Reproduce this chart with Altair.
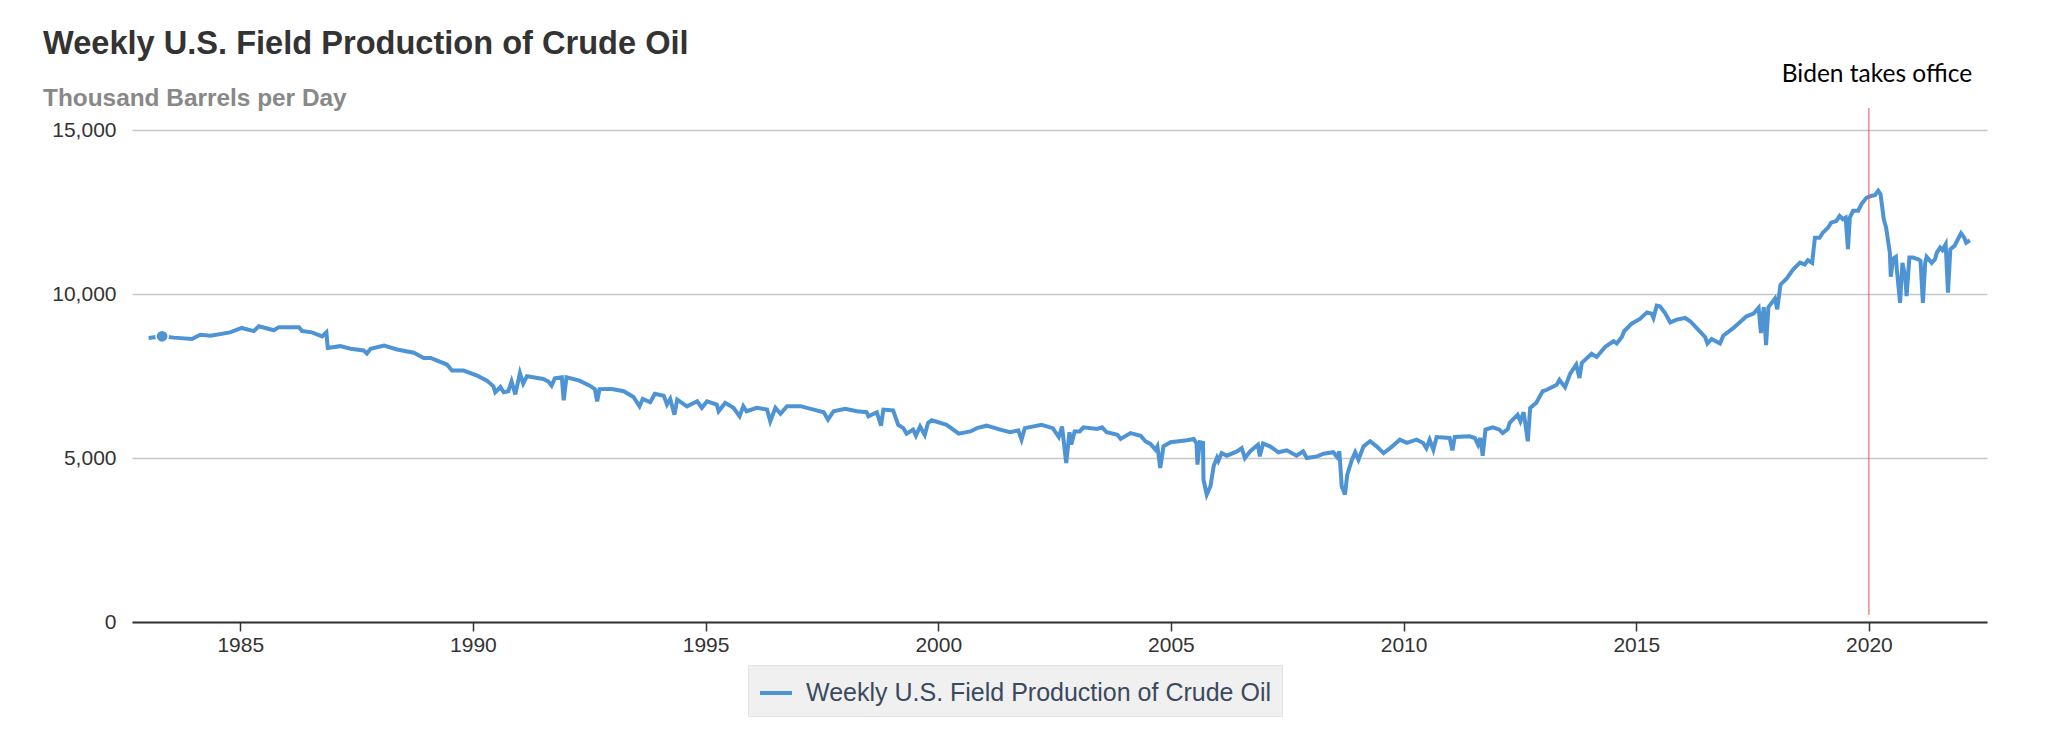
import altair as alt
import pandas as pd

# ---- data (decimal year, thousand barrels/day) ----
years = [
    1983.03, 1983.32, 1983.57, 1983.96, 1984.14, 1984.36, 1984.78, 1985.03, 1985.29, 1985.40,
    1985.72, 1985.83, 1986.26, 1986.33, 1986.54, 1986.76, 1986.85, 1986.88, 1987.15, 1987.37,
    1987.65, 1987.72, 1987.80, 1988.09, 1988.37, 1988.73, 1988.94, 1989.09, 1989.44, 1989.55,
    1989.80, 1990.09, 1990.30, 1990.44, 1990.48, 1990.59, 1990.66, 1990.76, 1990.83, 1990.91,
    1991.01, 1991.08, 1991.16, 1991.51, 1991.62, 1991.69, 1991.76, 1991.91, 1991.95, 1992.01,
    1992.29, 1992.51, 1992.62, 1992.67, 1992.72,
    1992.99, 1993.24, 1993.45, 1993.58, 1993.65, 1993.81, 1993.91, 1994.10, 1994.17, 1994.24,
    1994.33, 1994.39, 1994.60, 1994.82, 1994.92, 1995.03, 1995.24, 1995.28, 1995.42, 1995.60,
    1995.73, 1995.81, 1995.88, 1996.10, 1996.32, 1996.39, 1996.50, 1996.61, 1996.75, 1997.04,
    1997.32, 1997.54, 1997.63, 1997.75, 1998.00, 1998.25, 1998.46, 1998.50, 1998.68, 1998.77,
    1998.82, 1999.03, 1999.14, 1999.25, 1999.32, 1999.46, 1999.52, 1999.61, 1999.71, 1999.78,
    1999.86, 2000.18, 2000.44, 2000.69, 2000.83, 2001.04, 2001.33, 2001.54, 2001.72, 2001.79,
    2001.86, 2002.22, 2002.46, 2002.59, 2002.66, 2002.75, 2002.82, 2002.86, 2002.93, 2003.04,
    2003.12, 2003.41, 2003.52, 2003.62, 2003.85, 2003.92, 2004.13, 2004.35, 2004.45, 2004.56,
    2004.67, 2004.71, 2004.77, 2004.84, 2004.99, 2005.35, 2005.49, 2005.55, 2005.57, 2005.62,
    2005.69, 2005.70, 2005.77, 2005.85, 2005.92, 2005.99, 2006.02, 2006.09, 2006.20, 2006.42,
    2006.52, 2006.59, 2006.70, 2006.87, 2006.91, 2006.98, 2007.13, 2007.31, 2007.49, 2007.70,
    2007.84, 2007.92, 2008.14, 2008.28, 2008.49, 2008.57, 2008.62, 2008.67, 2008.74, 2008.79,
    2008.89, 2008.96, 2009.03, 2009.14, 2009.28, 2009.42, 2009.57, 2009.71, 2009.92, 2010.07,
    2010.28, 2010.42, 2010.49, 2010.56, 2010.64, 2010.71, 2010.99, 2011.05, 2011.10, 2011.42,
    2011.53, 2011.60, 2011.65, 2011.70, 2011.76, 2011.92, 2012.06, 2012.13, 2012.24, 2012.28,
    2012.45, 2012.51, 2012.58, 2012.67, 2012.72, 2012.85, 2012.99,
    2013.08, 2013.29, 2013.35, 2013.47, 2013.58, 2013.71, 2013.78, 2013.83, 2014.04, 2014.15,
    2014.33, 2014.51, 2014.58, 2014.69, 2014.74, 2014.90, 2015.08, 2015.23, 2015.33, 2015.37,
    2015.44, 2015.51, 2015.62, 2015.73, 2015.87, 2016.05, 2016.16, 2016.33, 2016.48, 2016.53,
    2016.62, 2016.80, 2016.87, 2017.09, 2017.37, 2017.52,
    2017.63, 2017.68, 2017.74, 2017.79, 2017.84, 2017.98, 2018.03, 2018.10, 2018.23, 2018.37,
    2018.52, 2018.62, 2018.69, 2018.78, 2018.84, 2018.94, 2019.01, 2019.12, 2019.19, 2019.30,
    2019.37, 2019.44, 2019.50, 2019.55, 2019.59, 2019.66, 2019.77, 2019.84, 2019.95, 2020.06,
    2020.13, 2020.20, 2020.25, 2020.32, 2020.37, 2020.45, 2020.47, 2020.52, 2020.58, 2020.60,
    2020.67, 2020.72, 2020.78, 2020.81, 2020.87, 2020.95, 2021.06, 2021.11, 2021.16, 2021.21,
    2021.24, 2021.35, 2021.42, 2021.46, 2021.53, 2021.58, 2021.65, 2021.70, 2021.75, 2021.84,
    2021.93, 2021.98, 2022.05, 2022.09, 2022.17,
]
values = [
    8660, 8710, 8670, 8630, 8760, 8730, 8830, 8965, 8870, 9015,
    8895, 8990, 8990, 8870, 8830, 8710, 8830, 8355, 8410, 8330,
    8280, 8185, 8330, 8430, 8310, 8210, 8050, 8050, 7850, 7665,
    7665, 7510, 7360, 7185, 7005, 7165, 7005, 7035, 7340, 6940,
    7590, 7270, 7490, 7410, 7330, 7205, 7430, 7460, 6760, 7460,
    7360, 7205, 7100, 6730, 7100,
    7105, 7035, 6860, 6575, 6800, 6700, 6960, 6900, 6630, 6800,
    6320, 6780, 6575, 6730, 6530, 6730, 6630, 6425, 6680, 6530,
    6270, 6580, 6425, 6530, 6475, 6120, 6530, 6350, 6580, 6580,
    6475, 6395, 6170, 6425, 6500, 6425, 6395, 6270, 6395, 5985,
    6475, 6450, 6010, 5910, 5740, 5865, 5680, 5960, 5705, 6070,
    6150, 6010, 5740, 5810, 5910, 5985, 5865, 5785, 5840, 5560,
    5910, 6010, 5910, 5640, 5960, 4850, 5785, 5410, 5810, 5810,
    5935, 5885, 5935, 5785, 5710, 5580, 5760, 5680, 5510, 5430,
    5250, 5355, 4695, 5355, 5480, 5540, 5580, 5440, 4800, 5480,
    5460, 4340, 3885, 4140, 4760, 5010, 4910, 5150, 5070, 5200,
    5300, 5000, 5200, 5405, 5050, 5440, 5355, 5175, 5235, 5070,
    5200, 5000, 5050, 5130, 5175, 5030, 5200, 4140, 3885, 4490,
    4950, 5175, 4950, 5355, 5510, 5355, 5150, 5300, 5560, 5460,
    5560, 5460, 5300, 5560, 5250, 5640, 5610, 5235, 5640, 5660,
    5610, 5405, 5610, 5070, 5865, 5935, 5865, 5760, 5885, 6070,
    6320, 6120, 6395, 5510, 6525, 6680, 7035,
    7080, 7230, 7380, 7160, 7570, 7845, 7440, 7900, 8180, 8080,
    8385, 8560, 8490, 8690, 8865, 9095, 9240, 9440, 9400, 9270,
    9645, 9625, 9420, 9135, 9220, 9270, 9170, 8915, 8690, 8490,
    8630, 8490, 8730, 8965, 9320, 9400,
    9580, 8810, 9600, 8440, 9600, 9860, 9535, 10285, 10465, 10745,
    10955, 10900, 11030, 10950, 11715, 11715, 11870, 12020, 12175, 12225,
    12380, 12280, 12330, 11365, 12330, 12535, 12535, 12740, 12940, 12995,
    13015, 13150, 13045, 12280, 12020, 11260, 10525, 11080, 11135, 10750,
    9730, 10950, 10545, 9935, 11110, 11110, 11060, 11010, 9730, 10950,
    11135, 10950, 11060, 11260, 11415, 11340, 11515, 10040, 11365, 11465,
    11715, 11850, 11715, 11565, 11640,
]
series_name = "Weekly U.S. Field Production of Crude Oil"
marker_year = [1983.32]
marker_value = [8710]
x_ticks = [1985, 1990, 1995, 2000, 2005, 2010, 2015, 2020]
y_ticks = [0, 5000, 10000, 15000]
event_year = [2020.0]
event_label = ["Biden takes office"]

LINE_COLOR = "#4e94d4"
FONT = "Liberation Sans"

df = pd.DataFrame({"year": years, "value": values, "series": series_name})
marker_df = pd.DataFrame({"year": marker_year, "value": marker_value})
event_df = pd.DataFrame({"year": event_year, "label": event_label})

x_enc = alt.X(
    "year:Q",
    scale=alt.Scale(domain=[1982.673, 2022.538], nice=False, zero=False),
    axis=alt.Axis(
        values=x_ticks, format="d", title=None, grid=False,
        domain=True, domainColor="#333333", domainWidth=2,
        ticks=True, tickSize=9, tickColor="#333333", tickWidth=1.5,
        labelFont=FONT, labelFontSize=21, labelColor="#333333", labelPadding=3,
    ),
)
y_enc = alt.Y(
    "value:Q",
    scale=alt.Scale(domain=[0, 15000], nice=False),
    axis=alt.Axis(
        values=y_ticks, format=",d", title=None, grid=True,
        gridColor="#c8c8c8", gridWidth=1.5, domain=False, ticks=False,
        labelFont=FONT, labelFontSize=21, labelColor="#333333", labelPadding=16,
    ),
)

line = alt.Chart(df).mark_line(strokeWidth=4).encode(
    x=x_enc,
    y=y_enc,
    color=alt.Color(
        "series:N",
        scale=alt.Scale(range=[LINE_COLOR]),
        legend=alt.Legend(
            title=None, orient="none", legendX=616, legendY=535,
            direction="horizontal", fillColor="#f0f0f0", strokeColor="#e2e2e2",
            padding=10, symbolType="stroke", symbolSize=1024, symbolStrokeWidth=4,
            labelFont=FONT, labelFontSize=25, labelColor="#3b4a5e",
            labelOffset=12, labelLimit=0,
        ),
    ),
)

marker = alt.Chart(marker_df).mark_circle(
    size=150, color=LINE_COLOR, opacity=1, stroke="white", strokeWidth=1.5
).encode(x="year:Q", y="value:Q")

rule = alt.Chart(event_df).mark_rule(color="#e8505b", strokeWidth=1).encode(
    x="year:Q", y=alt.value(-22), y2=alt.value(485)
)

label = alt.Chart(event_df).mark_text(
    font="Lato", fontSize=24.5, color="#000000", dx=8, align="center", baseline="middle"
).encode(x="year:Q", y=alt.value(-55), text="label:N")

chart = alt.layer(line, marker, rule, label).properties(
    width=1855,
    height=492,
    autosize="none",
    padding={"left": 124, "top": 122, "right": 53, "bottom": 99},
    title=alt.TitleParams(
        text="Weekly U.S. Field Production of Crude Oil",
        subtitle="Thousand Barrels per Day",
        anchor="start", frame="group", dx=-89, offset=-48,
        font=FONT, fontSize=32.6, fontWeight="bold", color="#333333",
        subtitleFont=FONT, subtitleFontSize=24.4, subtitleFontWeight="bold",
        subtitleColor="#888888", subtitlePadding=26,
    ),
).configure_view(stroke=None)

chart.save("out.html", embed_options={"renderer": "svg", "actions": False})
